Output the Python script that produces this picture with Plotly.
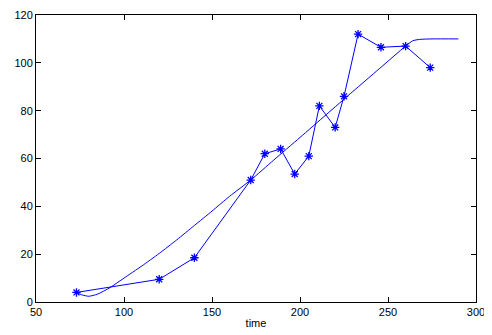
import plotly.graph_objects as go

# observed data (asterisks)
time = [73, 120, 140, 172, 180, 189, 197, 205, 211, 220, 225, 233, 246, 260, 274]
value = [4, 9.5, 18.5, 51, 62, 64, 53.5, 61, 82, 73, 86, 112, 106.5, 107, 98]

# fitted curve
fitTime = [73, 76, 80, 85, 92, 100, 110, 120, 130, 140, 150, 160, 172, 185, 200,
           215, 230, 245, 260, 264, 268, 275, 290]
fitValue = [4, 3, 2.4, 3.3, 6, 10, 15, 20.3, 26, 32, 38, 44.2, 51, 59.3, 68.8,
            78.4, 88, 97.5, 107, 109.2, 109.8, 110, 110]

BLUE = 'rgb(0,0,255)'

fig = go.Figure()
fig.add_trace(go.Scatter(x=time, y=value, mode='lines+markers',
                         line=dict(color=BLUE, width=1),
                         marker=dict(symbol='asterisk-open', size=7,
                                     line=dict(color=BLUE, width=1.3))))
fig.add_trace(go.Scatter(x=fitTime, y=fitValue, mode='lines',
                         line=dict(color=BLUE, width=1, shape='spline', smoothing=0.6)))

axisStyle = dict(showgrid=False, zeroline=False, showline=True, linecolor='black',
                 linewidth=1, mirror='allticks', ticks='inside', ticklen=5,
                 tickcolor='black', tickfont=dict(size=11, color='black'),
                 automargin=False)

# page body adds an 8px margin, so the figure is a bit smaller than the window
fig.update_layout(
    width=484, height=327,
    margin=dict(l=28, r=16, t=7, b=33, autoexpand=False),
    paper_bgcolor='white', plot_bgcolor='white',
    showlegend=False,
    font=dict(family='Liberation Sans, Arial, sans-serif', size=11, color='black'),
    xaxis=dict(range=[50, 300], tickvals=[50, 100, 150, 200, 250, 300],
               title=dict(text='time', standoff=2, font=dict(size=11)), **axisStyle),
    yaxis=dict(range=[0, 120], tickvals=[0, 20, 40, 60, 80, 100, 120], **axisStyle),
)

fig.write_html("out.html")
